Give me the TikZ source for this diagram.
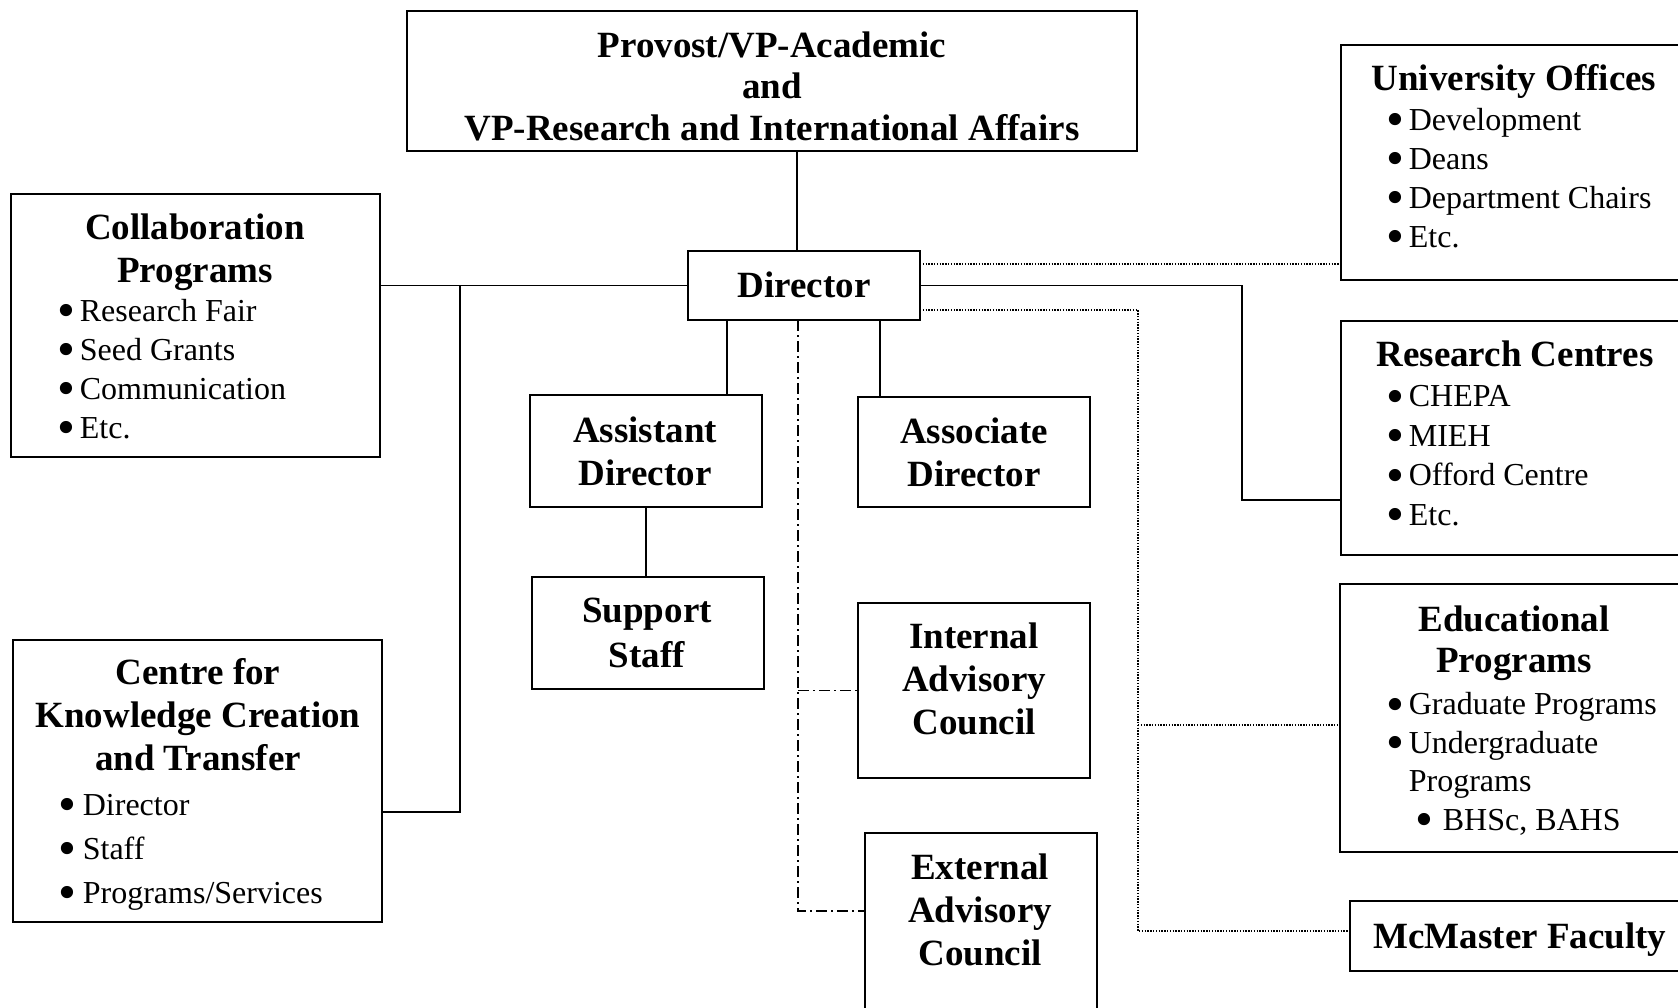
\documentclass[tikz,border=0pt]{standalone}
\usepackage{fontspec}
\usepackage{graphicx}
\setmainfont{Liberation Serif}

\tikzset{every picture/.style={line width=1.7pt}}
\tikzset{
  box/.style={draw, inner sep=0pt, outer sep=0pt, anchor=north west},
  head/.style={font=\bfseries\fontsize{37}{43}\selectfont, align=center, anchor=base, inner sep=0pt},
  items/.style={font=\fontsize{32}{39}\selectfont, align=left, anchor=base west, inner sep=0pt},
  dotline/.style={line width=1.4pt, dash pattern=on 1.4pt off 1.4pt},
  dashdotline/.style={dash pattern=on 11pt off 4pt on 2pt off 4pt},
}
% bullet, lowered and enlarged; text starts after #1
\newcommand\bul[1][22pt]{\makebox[#1][l]{\raisebox{-6.5pt}{\scalebox{1.6}{\textbullet}}}}

\begin{document}
\begin{tikzpicture}[x=1pt,y=1pt,yscale=-1]
\useasboundingbox (0,0) rectangle (1678,1007);
\clip (0,0) rectangle (1678,1007);
%Shape: Rectangle
\node[box, minimum width=730pt, minimum height=140pt] (provost) at (407,11) {};
\node[head] (provosttext) at (772,140) {Provost/VP-Academic\\[-1.5pt]and\\[-1.5pt]VP-Research and International Affairs};
%Shape: Rectangle
\node[box, minimum width=232pt, minimum height=69pt] (dir) at (688,251) {};
\node[head] (dirtext) at (804,297) {Director};
%Shape: Rectangle
\node[box, minimum width=369pt, minimum height=263pt] (collab) at (11,194) {};
\node[head] (collabtext) at (195,282) {Collaboration\\Programs};
\node[items] (collabitems) at (57,438) {\bul Research Fair\\\bul Seed Grants\\\bul Communication\\\bul Etc.};
%Shape: Rectangle
\node[box, minimum width=369pt, minimum height=282pt] (ckct) at (13,640) {};
\node[head] (ckcttext) at (198,770) {Centre for\\Knowledge Creation\\and Transfer};
\node[items] (ckctitems) at (58,903) {\bul[24pt]Director\\[5pt]\bul[24pt]Staff\\[5pt]\bul[24pt]Programs/Services};
%Shape: Rectangle
\node[box, minimum width=232pt, minimum height=112pt] (asst) at (530,395) {};
\node[head] (assttext) at (645,485) {Assistant\\Director};
%Shape: Rectangle
\node[box, minimum width=232pt, minimum height=112pt] (staff) at (532,577) {};
\node[head] (stafftext) at (647,667) {Support\\[2pt]Staff};
%Shape: Rectangle
\node[box, minimum width=232pt, minimum height=110pt] (assoc) at (858,397) {};
\node[head] (assoctext) at (974,486) {Associate\\Director};
%Shape: Rectangle
\node[box, minimum width=232pt, minimum height=175pt] (iac) at (858,603) {};
\node[head] (iactext) at (974,734) {Internal\\Advisory\\Council};
%Shape: Rectangle
\node[box, minimum width=232pt, minimum height=177pt] (eac) at (865,833) {};
\node[head] (eactext) at (980,965) {External\\Advisory\\Council};
%Shape: Rectangle
\node[box, minimum width=349pt, minimum height=235pt] (uo) at (1341,45) {};
\node[head] (uotext) at (1514,90) {University Offices};
\node[items] (uoitems) at (1386,247) {\bul Development\\\bul Deans\\\bul Department Chairs\\\bul Etc.};
%Shape: Rectangle
\node[box, minimum width=349pt, minimum height=234pt] (rc) at (1341,321) {};
\node[head] (rctext) at (1515,366) {Research Centres};
\node[items] (rcitems) at (1386,525) {\bul CHEPA\\[0.5pt]\bul MIEH\\[0.5pt]\bul Offord Centre\\[0.5pt]\bul Etc.};
%Shape: Rectangle
\node[box, minimum width=350pt, minimum height=268pt] (ed) at (1340,584) {};
\node[head] (edtext) at (1514,672) {Educational\\[-2pt]Programs};
\node[items] (editems) at (1386,830) {\bul Graduate Programs\\[-0.5pt]\bul Undergraduate\\[-0.5pt]\hspace*{22pt}Programs\\[-0.5pt]\hspace*{29pt}\bul[27pt]BHSc, BAHS};
%Shape: Rectangle
\node[box, minimum width=342pt, minimum height=70pt] (mcm) at (1350,901) {};
\node[head] (mcmtext) at (1520,948) {McMaster Faculty};

%Straight Lines
\draw (dir.north) ++(-7,0) coordinate (d0) -- (d0 |- provost.south);
%Straight Lines
\draw (dir.west) -- (dir.west -| collab.east);
\coordinate (bus) at (460,812);
\draw (bus |- dir.west) -- (bus) -- (bus -| ckct.east);
%Straight Lines
\draw (dir.south west) ++(39,0) coordinate (d1) -- (d1 |- asst.north);
\draw (dir.south east) ++(-40,0) coordinate (d2) -- (d2 |- assoc.north);
\draw (asst.south) -- (asst.south |- staff.north);
%Dash-dot Lines
\coordinate (ddot) at (798,911);
\draw[dashdotline] (dir.south -| ddot) -- (ddot) -- (ddot -| eac.west);
\draw[dashdotline] (ddot |- iac.west) -- (iac.west);
%Dotted Lines
\draw[dotline] (dir.north east) ++(0,13) coordinate (d4) -- (d4 -| uo.west);
\coordinate (jd) at (1138,931);
\coordinate (je) at (1138,725);
\draw[dotline] (dir.south east) ++(0,-10) coordinate (d5) -- (d5 -| jd) -- (jd) -- (jd -| mcm.west);
\draw[dotline] (je) -- (je -| ed.west);
%Straight Lines
\coordinate (jr) at (1242,500);
\draw (dir.east) -| (jr) -- (jr -| rc.west);
\end{tikzpicture}
\end{document}
